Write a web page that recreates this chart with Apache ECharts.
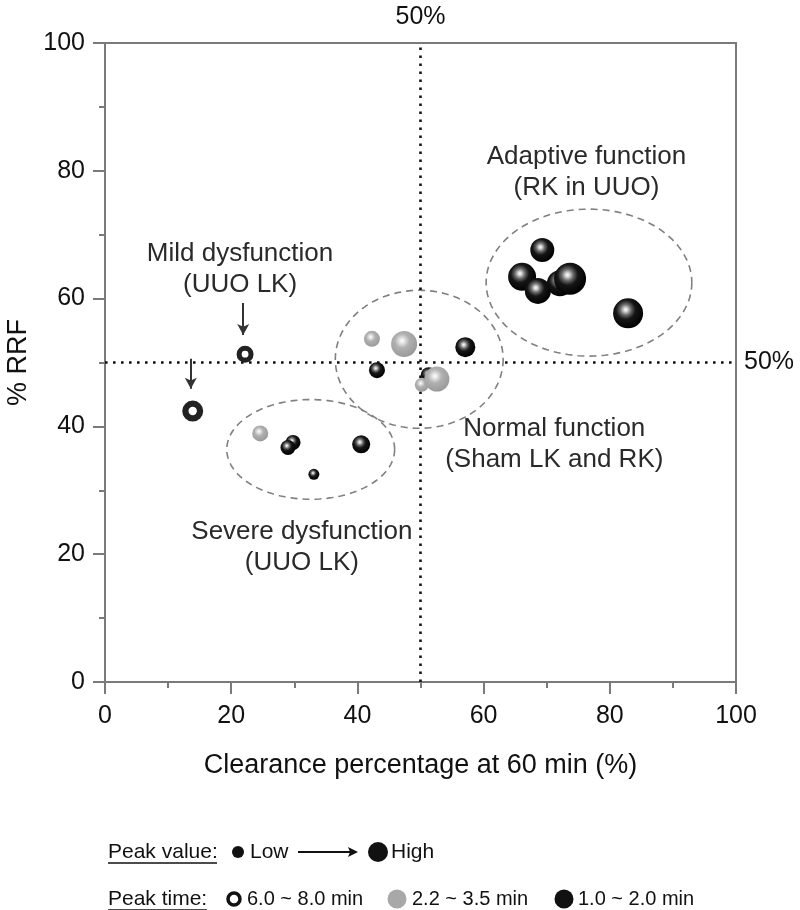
<!DOCTYPE html>
<html>
<head>
<meta charset="utf-8">
<script src="https://cdn.jsdelivr.net/npm/echarts@6/dist/echarts.min.js"></script>
<style>html,body{margin:0;padding:0;background:#fff}#c{width:800px;height:910px}</style>
</head>
<body>
<div id="c"></div>
<script>
// ---- data ----
// [clearance %, %RRF, peak value (a.u.)]
const fastPeak = [ // peak time 1.0 ~ 2.0 min (black)
  [69.3, 67.6, 12], [66.1, 63.4, 14], [68.6, 61.2, 13], [72.1, 62.4, 13], [73.7, 63.1, 16], [82.9, 57.7, 15],
  [57.1, 52.4, 10], [43.1, 48.8, 8], [51.3, 48.0, 8],
  [29.8, 37.5, 7.5], [29.0, 36.7, 7.5], [40.6, 37.2, 9], [33.1, 32.5, 5.5]
];
const midPeak = [ // peak time 2.2 ~ 3.5 min (grey)
  [42.3, 53.7, 8], [47.4, 52.9, 13], [50.2, 46.5, 7], [52.6, 47.4, 12.5], [24.6, 38.9, 8]
];
const slowPeak = [ // peak time 6.0 ~ 8.0 min (open)
  [22.2, 51.3, 8.5], [13.9, 42.4, 10.5]
];
// group ellipses: [cx, cy, rx, ry] in data units
const groupEllipses = [
  [76.7, 62.5, 16.3, 11.5],
  [49.8, 50.5, 13.3, 10.8],
  [32.6, 36.4, 13.3, 7.8]
];
const groupLabels = [
  {name: 'Adaptive function\n(RK in UUO)', value: [76.3, 79.8]},
  {name: 'Mild dysfunction\n(UUO LK)', value: [21.4, 64.6]},
  {name: 'Normal function\n(Sham LK and RK)', value: [71.2, 37.2]},
  {name: 'Severe dysfunction\n(UUO LK)', value: [31.2, 21.1]}
];
// arrows: [[x0,y0],[x1,y1]]
const arrows = [
  [[21.9, 59.3], [21.9, 54.3]],
  [[13.6, 50.6], [13.6, 45.9]]
];
const xTicks = [0, 20, 40, 60, 80, 100];
const yTicks = [0, 20, 40, 60, 80, 100];
const threshold = 50;

const FONT = '"Liberation Sans", Arial, sans-serif';
const AXIS_GREY = '#7a7a7a';

const blackBall = {
  type: 'radial', x: 0.42, y: 0.38, r: 0.62,
  colorStops: [
    {offset: 0, color: '#ffffff'}, {offset: 0.1, color: '#d8d8d8'},
    {offset: 0.3, color: '#666'}, {offset: 0.52, color: '#161616'}, {offset: 1, color: '#000'}
  ]
};
const greyBall = {
  type: 'radial', x: 0.42, y: 0.38, r: 0.62,
  colorStops: [
    {offset: 0, color: '#ffffff'}, {offset: 0.15, color: '#e6e6e6'},
    {offset: 0.45, color: '#b0b0b0'}, {offset: 1, color: '#9a9a9a'}
  ]
};

const sizeOf = v => v[2] * 2;

const chart = echarts.init(document.getElementById('c'), null, {renderer: 'canvas'});

const axisCommon = {
  type: 'value', min: 0, max: 100, interval: 20,
  axisLine: {show: true, lineStyle: {color: AXIS_GREY, width: 2}},
  axisTick: {show: true, inside: false, length: 12, lineStyle: {color: AXIS_GREY, width: 2}},
  minorTick: {show: true, splitNumber: 2, length: 6, lineStyle: {color: AXIS_GREY, width: 2}},
  splitLine: {show: false},
  axisLabel: {fontSize: 25, color: '#111', fontFamily: FONT,
    formatter: v => (xTicks.indexOf(v) >= 0 ? String(v) : '')}
};

const option = {
  animation: false,
  backgroundColor: '#fff',
  textStyle: {fontFamily: FONT},
  grid: {left: 105, right: 64, top: 43, bottom: 228, show: true, borderColor: AXIS_GREY, borderWidth: 2,
    containLabel: false, outerBoundsMode: 'none'},
  xAxis: Object.assign({}, axisCommon, {
    name: 'Clearance percentage at 60 min (%)', nameLocation: 'middle', nameGap: 70,
    nameTextStyle: {fontSize: 27, color: '#111', fontFamily: FONT},
    axisLabel: Object.assign({}, axisCommon.axisLabel, {margin: 22})
  }),
  yAxis: Object.assign({}, axisCommon, {
    name: '% RRF', nameLocation: 'middle', nameGap: 72,
    nameTextStyle: {fontSize: 27, color: '#111', fontFamily: FONT},
    axisLabel: Object.assign({}, axisCommon.axisLabel, {margin: 20,
      formatter: v => (yTicks.indexOf(v) >= 0 ? String(v) : '')})
  }),
  series: [
    {
      type: 'custom', z: 1, silent: true,
      data: groupEllipses,
      encode: {x: 0, y: 1},
      renderItem: function (params, api) {
        const c = api.coord([api.value(0), api.value(1)]);
        const s = api.size([api.value(2), api.value(3)]);
        const pts = [];
        for (let i = 0; i <= 120; i++) {
          const t = i / 120 * Math.PI * 2;
          pts.push([c[0] + s[0] * Math.cos(t), c[1] + s[1] * Math.sin(t)]);
        }
        return {type: 'polyline', shape: {points: pts},
          style: {fill: 'none', stroke: '#808080', lineWidth: 1.6, lineDash: [7, 5]}};
      }
    },
    {
      type: 'scatter', z: 2, silent: true,
      data: [],
      markLine: {
        silent: true, symbol: 'none', animation: false,
        lineStyle: {color: '#111', width: 2.6, type: [2.6, 5.4]},
        data: [
          {xAxis: threshold, label: {show: true, position: 'end', formatter: '50%', fontSize: 25, color: '#111', distance: 13, fontFamily: FONT}},
          {yAxis: threshold, label: {show: true, position: 'end', formatter: '50%', fontSize: 25, color: '#111', distance: 8, fontFamily: FONT}}
        ]
      }
    },
    {
      type: 'scatter', z: 3, silent: true, data: [],
      markLine: {
        silent: true, symbol: ['none', 'arrow'], symbolSize: [9, 11], animation: false,
        label: {show: false},
        lineStyle: {color: '#333', width: 2, type: 'solid'},
        data: arrows.map(a => [{coord: a[0]}, {coord: a[1]}])
      }
    },
    {
      name: '1.0 ~ 2.0 min', type: 'scatter', z: 5,
      data: fastPeak,
      symbolSize: sizeOf,
      itemStyle: {color: blackBall, opacity: 1}
    },
    {
      name: '2.2 ~ 3.5 min', type: 'scatter', z: 6,
      data: midPeak,
      symbolSize: sizeOf,
      itemStyle: {color: greyBall, opacity: 1}
    },
    {
      name: '6.0 ~ 8.0 min', type: 'scatter', z: 6,
      data: slowPeak.map(v => ({value: v, symbolSize: v[2] * 1.4,
        itemStyle: {borderWidth: v[2] * 0.6}})),
      itemStyle: {color: '#fff', borderColor: '#222', opacity: 1}
    },
    {
      type: 'scatter', z: 7, silent: true,
      data: groupLabels, symbolSize: 0,
      itemStyle: {opacity: 1},
      label: {show: true, position: 'inside', formatter: p => p.name, opacity: 1,
        fontSize: 26, lineHeight: 31, color: '#2a2a2a', align: 'center', fontFamily: FONT}
    }
  ],
  graphic: []
};

// legend (drawn as graphics below the plot)
function txt(x, y, s, size) {
  return {type: 'text', x: x, y: y, style: {text: s, font: size + 'px ' + FONT, fill: '#111',
    textAlign: 'left', textVerticalAlign: 'middle', align: 'left', verticalAlign: 'middle'}};
}
const r1 = 852, r2 = 899;
option.graphic = [
  txt(108, r1, 'Peak value:', 21),
  {type: 'line', shape: {x1: 108, y1: r1 + 11, x2: 217, y2: r1 + 11}, style: {stroke: '#111', lineWidth: 1.5}},
  {type: 'circle', shape: {cx: 238, cy: r1, r: 6}, style: {fill: '#111'}},
  txt(250, r1, 'Low', 21),
  {type: 'line', shape: {x1: 298, y1: r1, x2: 354, y2: r1}, style: {stroke: '#111', lineWidth: 2}},
  {type: 'polygon', shape: {points: [[358, r1], [348, r1 - 5], [350, r1], [348, r1 + 5]]}, style: {fill: '#111'}},
  {type: 'circle', shape: {cx: 378, cy: r1, r: 10}, style: {fill: '#111'}},
  txt(391, r1, 'High', 21),

  txt(108, r2, 'Peak time:', 21),
  {type: 'line', shape: {x1: 108, y1: r2 + 11, x2: 207, y2: r2 + 11}, style: {stroke: '#111', lineWidth: 1.5}},
  {type: 'circle', shape: {cx: 234, cy: r2, r: 6}, style: {fill: '#fff', stroke: '#111', lineWidth: 3.5}},
  txt(247, r2, '6.0 ~ 8.0 min', 20),
  {type: 'circle', shape: {cx: 397, cy: r2, r: 9.5}, style: {fill: '#a8a8a8'}},
  txt(412, r2, '2.2 ~ 3.5 min', 20),
  {type: 'circle', shape: {cx: 564, cy: r2, r: 9.5}, style: {fill: '#111'}},
  txt(578, r2, '1.0 ~ 2.0 min', 20)
];

chart.setOption(option);
</script>
</body>
</html>
